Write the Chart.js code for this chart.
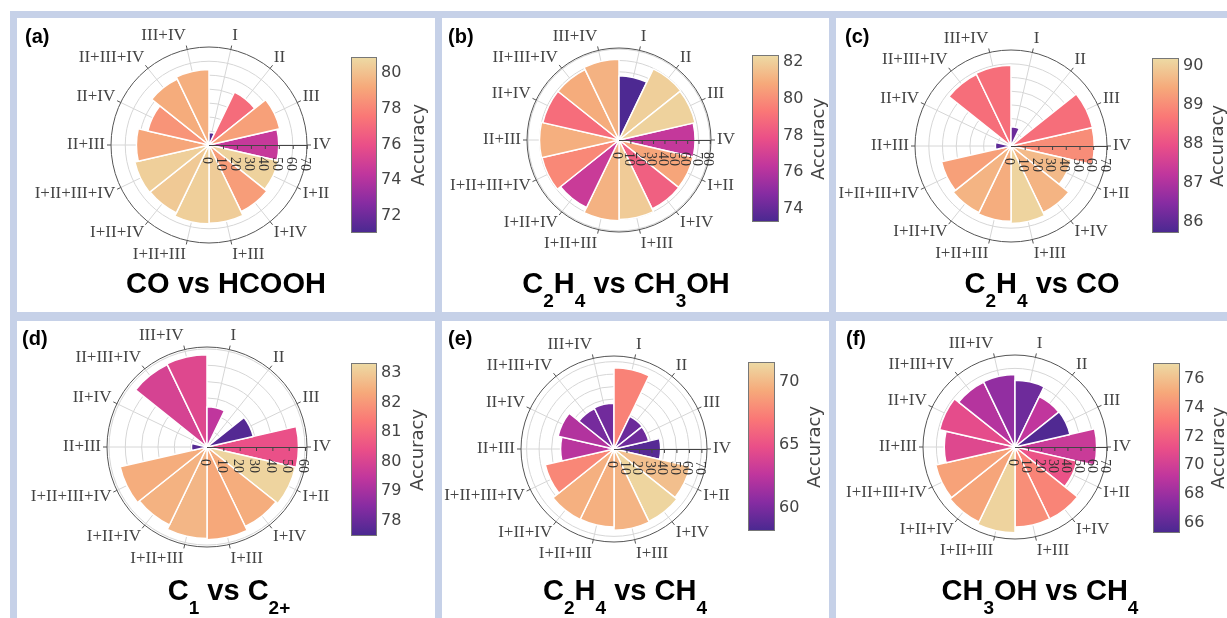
<!DOCTYPE html>
<html lang="en">
<head>
<meta charset="UTF-8">
<title>Polar accuracy charts</title>
<script src="https://cdn.jsdelivr.net/npm/chart.js"></script>
<style>
  body { margin:0; background:#fff; width:1227px; height:618px; overflow:hidden; position:relative; font-family:"Liberation Sans", Arial, sans-serif; }
  #frame { position:absolute; left:10px; top:11px; width:1240px; height:620px; background:#c6d1e8; }
  .panel { position:absolute; background:#fff; }
  .panel canvas { position:absolute; left:0; top:0; }
  .tag { position:absolute; font-weight:bold; font-size:20px; line-height:20px; color:#000; }
  .title { position:absolute; width:400px; text-align:center; font-weight:bold; font-size:29px; line-height:29px; color:#000; white-space:nowrap; }
  .title sub { font-size:19px; vertical-align:-14px; line-height:0; }
  .cbar { position:absolute; border:1px solid #777; box-sizing:border-box; }
  .ctick { position:absolute; font-family:"DejaVu Sans", sans-serif; font-size:16px; line-height:16px; color:#444; }
  .ctitle { position:absolute; width:200px; text-align:center; font-family:"DejaVu Sans", sans-serif; font-size:18px; line-height:24px; color:#444; transform:rotate(-90deg); }
</style>
</head>
<body>
<div id="frame"></div>

<script>
  // categories, clockwise starting at the east (IV) direction
  const categories = ['IV', 'I+II', 'I+IV', 'I+III', 'I+II+III', 'I+II+IV', 'I+II+III+IV',
                      'II+III', 'II+IV', 'II+III+IV', 'III+IV', 'I', 'II', 'III'];

  // radial values (bar length) and accuracy (bar colour) per panel
  const rA   = [50, 51, 53, 56, 56.5, 54, 54.5, 52, 45, 52.5, 54, 9, 42, 52];
  const accA = [74.5, 80.6, 78.8, 80.4, 80.5, 80.3, 80.5, 79.1, 78.5, 79.3, 79.4, 71.2, 77.1, 78.9];

  const rB   = [67, 67, 67.3, 70, 71, 66, 69.5, 70, 68.8, 68.8, 71, 56.5, 69.5, 68.7];
  const accB = [76.4, 80.7, 78.4, 81.9, 81.1, 76.6, 79.8, 81.0, 78.9, 80.9, 81.1, 73.3, 82.0, 82.1];

  const rC   = [60.8, 45, 54, 56.5, 55, 54, 52, 11.4, 0, 58, 59, 14, 0, 61];
  const accC = [89.0, 89.7, 89.6, 90.1, 89.5, 89.6, 89.3, 85.9, 86.0, 88.5, 88.5, 86.1, 86.0, 88.5];

  const rD   = [56, 55.5, 54, 56.7, 56, 53, 54.5, 9.5, 0, 56, 56.5, 24.6, 0, 29];
  const accD = [80.4, 83.2, 82.4, 82.3, 82.6, 82.5, 82.4, 77.6, 78.0, 79.9, 80.1, 79.4, 78.0, 77.6];

  const rE   = [37.4, 62.5, 64.5, 65, 62.5, 62.7, 56.5, 42.8, 46, 36, 36.7, 65, 29, 28.5];
  const accE = [58.5, 70.3, 71.3, 69.8, 69.6, 69.6, 67.7, 62.3, 62.0, 59.7, 59.5, 67.5, 59.3, 59.4];

  const rF   = [62.3, 48.5, 61, 61, 65.5, 63.5, 62, 54, 59, 55, 55.4, 51, 42.7, 43];
  const accF = [69.6, 71.3, 73.6, 74.0, 76.8, 74.9, 74.8, 70.6, 70.9, 68.8, 67.6, 66.4, 69.2, 65.4];

  // radial axis tick labels
  const radialA = [0, 10, 20, 30, 40, 50, 60, 70];
  const radialB = [0, 10, 20, 30, 40, 50, 60, 70, 80];
  const radialC = [0, 10, 20, 30, 40, 50, 60, 70];
  const radialD = [0, 10, 20, 30, 40, 50, 60];
  const radialE = [0, 10, 20, 30, 40, 50, 60, 70];
  const radialF = [0, 10, 20, 30, 40, 50, 60, 70];

  // colour bar ticks and ranges
  const cbTicksA = [72, 74, 76, 78, 80];      const cbRangeA = [71.0, 80.85];
  const cbTicksB = [74, 76, 78, 80, 82];      const cbRangeB = [73.24, 82.33];
  const cbTicksC = [86, 87, 88, 89, 90];      const cbRangeC = [85.69, 90.18];
  const cbTicksD = [78, 79, 80, 81, 82, 83];  const cbRangeD = [77.46, 83.3];
  const cbTicksE = [60, 65, 70];              const cbRangeE = [58.1, 71.5];
  const cbTicksF = [66, 68, 70, 72, 74, 76];  const cbRangeF = [65.24, 77.04];

  // Agsunset colour scale
  const agsunset = [[75, 41, 145], [135, 44, 162], [192, 54, 157], [234, 79, 136],
                    [250, 120, 118], [246, 169, 122], [237, 217, 163]];

  function colorFor(v, range) {
    let t = (v - range[0]) / (range[1] - range[0]);
    t = Math.max(0, Math.min(1, t));
    const s = t * (agsunset.length - 1);
    const i = Math.min(Math.floor(s), agsunset.length - 2);
    const f = s - i;
    const c = agsunset[i].map((x, k) => Math.round(x + (agsunset[i + 1][k] - x) * f));
    return 'rgb(' + c.join(',') + ')';
  }

  const panels = [
    { tag: '(a)', box: [17, 18, 418, 294], cx: 209, cy: 145, R: 98, rmax: 70.2, r: rA, acc: accA, radial: radialA,
      cb: [351, 57, 26, 176], cbTicks: cbTicksA, cbRange: cbRangeA, cbTitleX: 418,
      title: 'CO vs HCOOH', titleX: 226, titleY: 293, tagPos: [25, 26] },
    { tag: '(b)', box: [442, 18, 387, 294], cx: 619, cy: 140, R: 92, rmax: 81.0, r: rB, acc: accB, radial: radialB,
      cb: [752, 55, 27, 167], cbTicks: cbTicksB, cbRange: cbRangeB, cbTitleX: 818,
      title: 'C<sub>2</sub>H<sub>4</sub> vs CH<sub>3</sub>OH', titleX: 626, titleY: 293, tagPos: [448, 26] },
    { tag: '(c)', box: [836, 18, 391, 294], cx: 1011, cy: 146, R: 96, rmax: 70.1, r: rC, acc: accC, radial: radialC,
      cb: [1152, 58, 27, 175], cbTicks: cbTicksC, cbRange: cbRangeC, cbTitleX: 1217,
      title: 'C<sub>2</sub>H<sub>4</sub> vs CO', titleX: 1042, titleY: 293, tagPos: [845, 26] },
    { tag: '(d)', box: [17, 321, 418, 297], cx: 207, cy: 447, R: 100, rmax: 61.2, r: rD, acc: accD, radial: radialD,
      cb: [351, 363, 26, 173], cbTicks: cbTicksD, cbRange: cbRangeD, cbTitleX: 417,
      title: 'C<sub>1</sub> vs C<sub>2+</sub>', titleX: 229, titleY: 600, tagPos: [22, 328] },
    { tag: '(e)', box: [442, 321, 387, 297], cx: 614, cy: 449, R: 93, rmax: 74.5, r: rE, acc: accE, radial: radialE,
      cb: [748, 362, 27, 169], cbTicks: cbTicksE, cbRange: cbRangeE, cbTitleX: 814,
      title: 'C<sub>2</sub>H<sub>4</sub> vs CH<sub>4</sub>', titleX: 625, titleY: 600, tagPos: [448, 328] },
    { tag: '(f)', box: [836, 321, 391, 297], cx: 1015, cy: 447, R: 92, rmax: 70.2, r: rF, acc: accF, radial: radialF,
      cb: [1153, 363, 27, 170], cbTicks: cbTicksF, cbRange: cbRangeF, cbTitleX: 1218,
      title: 'CH<sub>3</sub>OH vs CH<sub>4</sub>', titleX: 1040, titleY: 600, tagPos: [846, 328] }
  ];

  // grid, axes and labels drawn around the polar bars, using the chart's own radial scale
  const polarDeco = {
    id: 'polarDeco',
    beforeDatasetsDraw(chart) {
      const s = chart.scales.r, ctx = chart.ctx;
      const cx = s.xCenter, cy = s.yCenter;
      const R = s.getDistanceFromCenterForValue(s.max);
      const half = Math.PI / chart.data.labels.length;
      ctx.save();
      ctx.strokeStyle = '#d6d6d6';
      ctx.lineWidth = 1;
      for (let v = 10; v < s.max - 0.5; v += 10) {
        ctx.beginPath();
        ctx.arc(cx, cy, s.getDistanceFromCenterForValue(v), 0, 2 * Math.PI);
        ctx.stroke();
      }
      chart.data.labels.forEach((l, i) => {
        const a = s.getIndexAngle(i) - Math.PI / 2 + half;
        ctx.beginPath();
        ctx.moveTo(cx, cy);
        ctx.lineTo(cx + Math.cos(a) * R, cy + Math.sin(a) * R);
        ctx.stroke();
      });
      ctx.restore();
    },
    afterDatasetsDraw(chart, args, opts) {
      const s = chart.scales.r, ctx = chart.ctx;
      const cx = s.xCenter, cy = s.yCenter;
      const R = s.getDistanceFromCenterForValue(s.max);
      const half = Math.PI / chart.data.labels.length;
      ctx.save();
      // outer circle
      ctx.strokeStyle = '#555';
      ctx.lineWidth = 1;
      ctx.beginPath();
      ctx.arc(cx, cy, R, 0, 2 * Math.PI);
      ctx.stroke();
      // angular ticks and labels
      ctx.font = '17px "Liberation Serif", serif';
      ctx.fillStyle = '#444';
      ctx.textBaseline = 'middle';
      chart.data.labels.forEach((l, i) => {
        const a = s.getIndexAngle(i) - Math.PI / 2 + half;
        const ca = Math.cos(a), sa = Math.sin(a);
        ctx.beginPath();
        ctx.moveTo(cx + ca * R, cy + sa * R);
        ctx.lineTo(cx + ca * (R + 4), cy + sa * (R + 4));
        ctx.stroke();
        const px = cx + ca * (R + 6), py = cy + sa * (R + 6);
        ctx.textAlign = ca > 0.1 ? 'left' : (ca < -0.1 ? 'right' : 'center');
        ctx.fillText(l, px, py + sa * 8);
      });
      // radial axis
      ctx.strokeStyle = '#444';
      ctx.beginPath();
      ctx.moveTo(cx, cy + 0.5);
      ctx.lineTo(cx + R, cy + 0.5);
      ctx.stroke();
      ctx.font = '14px "Liberation Serif", serif';
      ctx.fillStyle = '#333';
      opts.ticks.forEach(v => {
        const d = s.getDistanceFromCenterForValue(v);
        if (v > 0) {
          ctx.beginPath();
          ctx.moveTo(cx + d + 0.5, cy);
          ctx.lineTo(cx + d + 0.5, cy + 4);
          ctx.stroke();
        }
        ctx.save();
        ctx.translate(cx + d - 2, cy + 12);
        ctx.rotate(Math.PI / 2);
        ctx.textAlign = 'left';
        ctx.textBaseline = 'middle';
        ctx.fillText(String(v), 0, 0);
        ctx.restore();
      });
      ctx.restore();
    }
  };

  function add(el, cls, css, html) {
    el.className = cls;
    Object.assign(el.style, css);
    if (html !== undefined) el.innerHTML = html;
    document.body.appendChild(el);
    return el;
  }

  panels.forEach(p => {
    const [bx, by, bw, bh] = p.box;
    const panel = add(document.createElement('div'), 'panel',
      { left: bx + 'px', top: by + 'px', width: bw + 'px', height: bh + 'px' });
    const cv = document.createElement('canvas');
    cv.width = bw;
    cv.height = bh;
    panel.appendChild(cv);

    const left = p.cx - p.R - bx, top = p.cy - p.R - by;
    new Chart(cv, {
      type: 'polarArea',
      data: {
        labels: categories,
        datasets: [{
          data: p.r,
          backgroundColor: p.acc.map(a => colorFor(a, p.cbRange)),
          borderColor: '#fff',
          borderWidth: 1.5
        }]
      },
      options: {
        responsive: false,
        animation: false,
        layout: { padding: { left: left, top: top, right: bw - left - 2 * p.R, bottom: bh - top - 2 * p.R } },
        plugins: {
          legend: { display: false },
          tooltip: { enabled: false },
          polarDeco: { ticks: p.radial }
        },
        scales: {
          r: {
            min: 0,
            max: p.rmax,
            startAngle: 90 - 180 / categories.length,
            ticks: { display: false },
            grid: { display: false },
            angleLines: { display: false },
            pointLabels: { display: false }
          }
        }
      },
      plugins: [polarDeco]
    });

    add(document.createElement('div'), 'tag', { left: p.tagPos[0] + 'px', top: p.tagPos[1] + 'px' }, p.tag);
    add(document.createElement('div'), 'title', { left: (p.titleX - 200) + 'px', top: (p.titleY - 24.5) + 'px' }, p.title);

    // colour bar
    const [cx0, cy0, cw, ch] = p.cb;
    const stops = agsunset.map((c, i) => 'rgb(' + c.join(',') + ') ' + (i / (agsunset.length - 1) * 100).toFixed(1) + '%');
    add(document.createElement('div'), 'cbar', {
      left: cx0 + 'px', top: cy0 + 'px', width: cw + 'px', height: ch + 'px',
      background: 'linear-gradient(to top, ' + stops.join(', ') + ')'
    });
    p.cbTicks.forEach(t => {
      const y = cy0 + (p.cbRange[1] - t) / (p.cbRange[1] - p.cbRange[0]) * ch;
      add(document.createElement('div'), 'ctick', { left: (cx0 + cw + 4) + 'px', top: (y - 8) + 'px' }, String(t));
    });
    add(document.createElement('div'), 'ctitle', { left: (p.cbTitleX - 100) + 'px', top: (cy0 + ch / 2 - 12) + 'px' }, 'Accuracy');
  });
</script>
</body>
</html>
